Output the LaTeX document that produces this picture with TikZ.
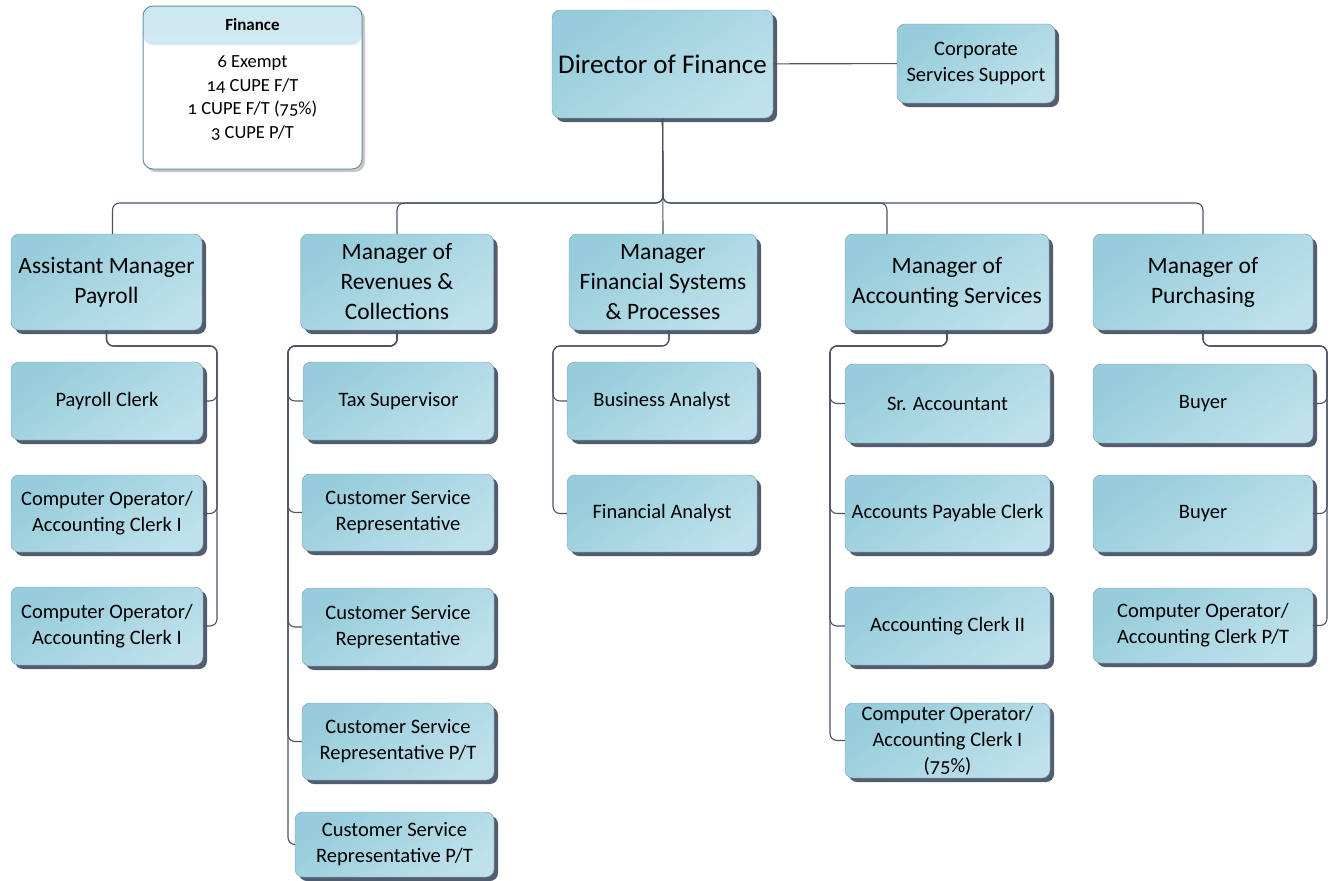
\documentclass[tikz,border=0pt]{standalone}
\usepackage{fontspec}
\setmainfont{Carlito}[Numbers=OldStyle]
\usetikzlibrary{shadows}

\definecolor{boxdark}{HTML}{96CCDB}
\definecolor{boxlight}{HTML}{BEE1EB}
\definecolor{boxline}{HTML}{8496A8}
\definecolor{boxshadow}{HTML}{535D70}
\definecolor{linkc}{HTML}{4A5468}
\definecolor{legline}{HTML}{5E96A6}
\definecolor{leghead}{HTML}{CBE7F0}

\begin{document}
\begin{tikzpicture}[x=1pt,y=-1pt]

% ---------- common style ----------
\tikzstyle{post}=[draw=boxline,rounded corners=8pt,top color=boxdark,bottom color=boxlight,
  shading angle=35,inner sep=0pt,align=center,
  drop shadow={shadow xshift=4pt,shadow yshift=-4pt,fill=boxshadow,opacity=1}]
\tikzstyle{mgr}=[post,font=\fontsize{23.5}{30}\selectfont]
\tikzstyle{staff}=[post,font=\fontsize{20.5}{26}\selectfont]
\tikzstyle{link}=[draw=linkc,line width=1.1pt,rounded corners=7pt]

\useasboundingbox (0,0) rectangle (1331,881);

% ================== Legend ==================
\node[draw=legline,line width=1pt,fill=white,rounded corners=10pt,minimum width=219pt,minimum height=163pt,
  drop shadow={shadow xshift=3pt,shadow yshift=-3pt,fill=black!22,opacity=1},
  path picture={\shade[top color=leghead,bottom color=leghead!45]
    (path picture bounding box.north west) rectangle ([yshift=-39pt]path picture bounding box.north east);}]
  (fin) at (252.5,87.5) {};
\node[font=\fontsize{17}{20}\selectfont\bfseries] (fintitle) at (252.5,25) {Finance};
\node[align=center,font=\fontsize{18.5}{23.5}\selectfont] (finbody) at (252.5,98)
  {6 Exempt\\14 CUPE F/T\\1 CUPE F/T (75\%)\\3 CUPE P/T};

% ================== Top level ==================
\node[post,minimum width=221pt,minimum height=108pt,font=\fontsize{27}{30}\selectfont]
  (dir) at (662.5,64) {Director of Finance};
\node[staff,minimum width=158pt,minimum height=79pt] (corp) at (976,63.5) {Corporate\\Services Support};
\draw[link] (dir) -- (corp);

% ================== Managers ==================
\node[mgr,minimum width=191pt,minimum height=96pt] (pay) at (106.5,282) {Assistant Manager\\Payroll};
\node[mgr,minimum width=193pt,minimum height=96pt] (rev) at (397,282) {Manager of\\Revenues \&\\Collections};
\node[mgr,minimum width=188pt,minimum height=96pt] (sys) at (663,282) {Manager\\Financial Systems\\\& Processes};
\node[mgr,minimum width=204pt,minimum height=96pt] (acc) at (947,282) {Manager of\\Accounting Services};
\node[mgr,minimum width=220pt,minimum height=96pt] (pur) at (1203,282) {Manager of\\Purchasing};

% bus under the director
\coordinate (bus) at (663,203);
\draw[link] (dir.south) -- (bus) -| ([xshift=6pt]pay.north);
\draw[link] (dir.south) -- (bus) -| (rev.north);
\draw[link] (dir.south) -- (sys.north);
\draw[link] (dir.south) -- (bus) -| ([xshift=-60pt]acc.north);
\draw[link] (dir.south) -- (bus) -| (pur.north);

% ================== Payroll ==================
\node[staff,minimum width=192pt,minimum height=78pt] (pay1) at (107,401) {Payroll Clerk};
\node[staff,minimum width=192pt,minimum height=77pt] (pay2) at (107,513.5) {Computer Operator/\\Accounting Clerk I};
\node[staff,minimum width=192pt,minimum height=78pt] (pay3) at (107,626) {Computer Operator/\\Accounting Clerk I};
\coordinate (payR) at (217,346);
\foreach \c in {pay1,pay2,pay3}
  \draw[link] (pay.south) |- (payR) |- (\c.east);

% ================== Revenues ==================
\node[staff,minimum width=191pt,minimum height=78pt] (rev1) at (398.5,401) {Tax Supervisor};
\node[staff,minimum width=192pt,minimum height=77pt] (rev2) at (398,512.5) {Customer Service\\Representative};
\node[staff,minimum width=192pt,minimum height=78pt] (rev3) at (398,627) {Customer Service\\Representative};
\node[staff,minimum width=192pt,minimum height=77pt] (rev4) at (398,741.5) {Customer Service\\Representative P/T};
\node[staff,minimum width=199pt,minimum height=65pt] (rev5) at (394.5,844.5) {Customer Service\\Representative P/T};
\coordinate (revR) at (288,346);
\foreach \c in {rev1,rev2,rev3,rev4,rev5}
  \draw[link] (rev.south) |- (revR) |- (\c.west);

% ================== Financial systems ==================
\node[staff,minimum width=190pt,minimum height=78pt] (sys1) at (662,401) {Business Analyst};
\node[staff,minimum width=190pt,minimum height=77pt] (sys2) at (662,513.5) {Financial Analyst};
\coordinate (sysR) at (553,346);
\foreach \c in {sys1,sys2}
  \draw[link] ([xshift=6pt]sys.south) |- (sysR) |- (\c.west);

% ================== Accounting ==================
\node[staff,minimum width=205pt,minimum height=79pt] (acc1) at (947.5,403.5) {Sr. Accountant};
\node[staff,minimum width=205pt,minimum height=77pt] (acc2) at (947.5,513.5) {Accounts Payable Clerk};
\node[staff,minimum width=205pt,minimum height=78pt] (acc3) at (947.5,626) {Accounting Clerk II};
\node[staff,minimum width=205pt,minimum height=75pt] (acc4) at (947.5,740.5) {Computer Operator/\\Accounting Clerk I\\(75\%)};
\coordinate (accR) at (830,346);
\foreach \c in {acc1,acc2,acc3,acc4}
  \draw[link] (acc.south) |- (accR) |- (\c.west);

% ================== Purchasing ==================
\node[staff,minimum width=220pt,minimum height=79pt] (pur1) at (1203,403.5) {Buyer};
\node[staff,minimum width=220pt,minimum height=77pt] (pur2) at (1203,513.5) {Buyer};
\node[staff,minimum width=220pt,minimum height=75pt] (pur3) at (1203,625.5) {Computer Operator/\\Accounting Clerk P/T};
\coordinate (purR) at (1327,346);
\foreach \c in {pur1,pur2,pur3}
  \draw[link] (pur.south) |- (purR) |- (\c.east);

\end{tikzpicture}
\end{document}
